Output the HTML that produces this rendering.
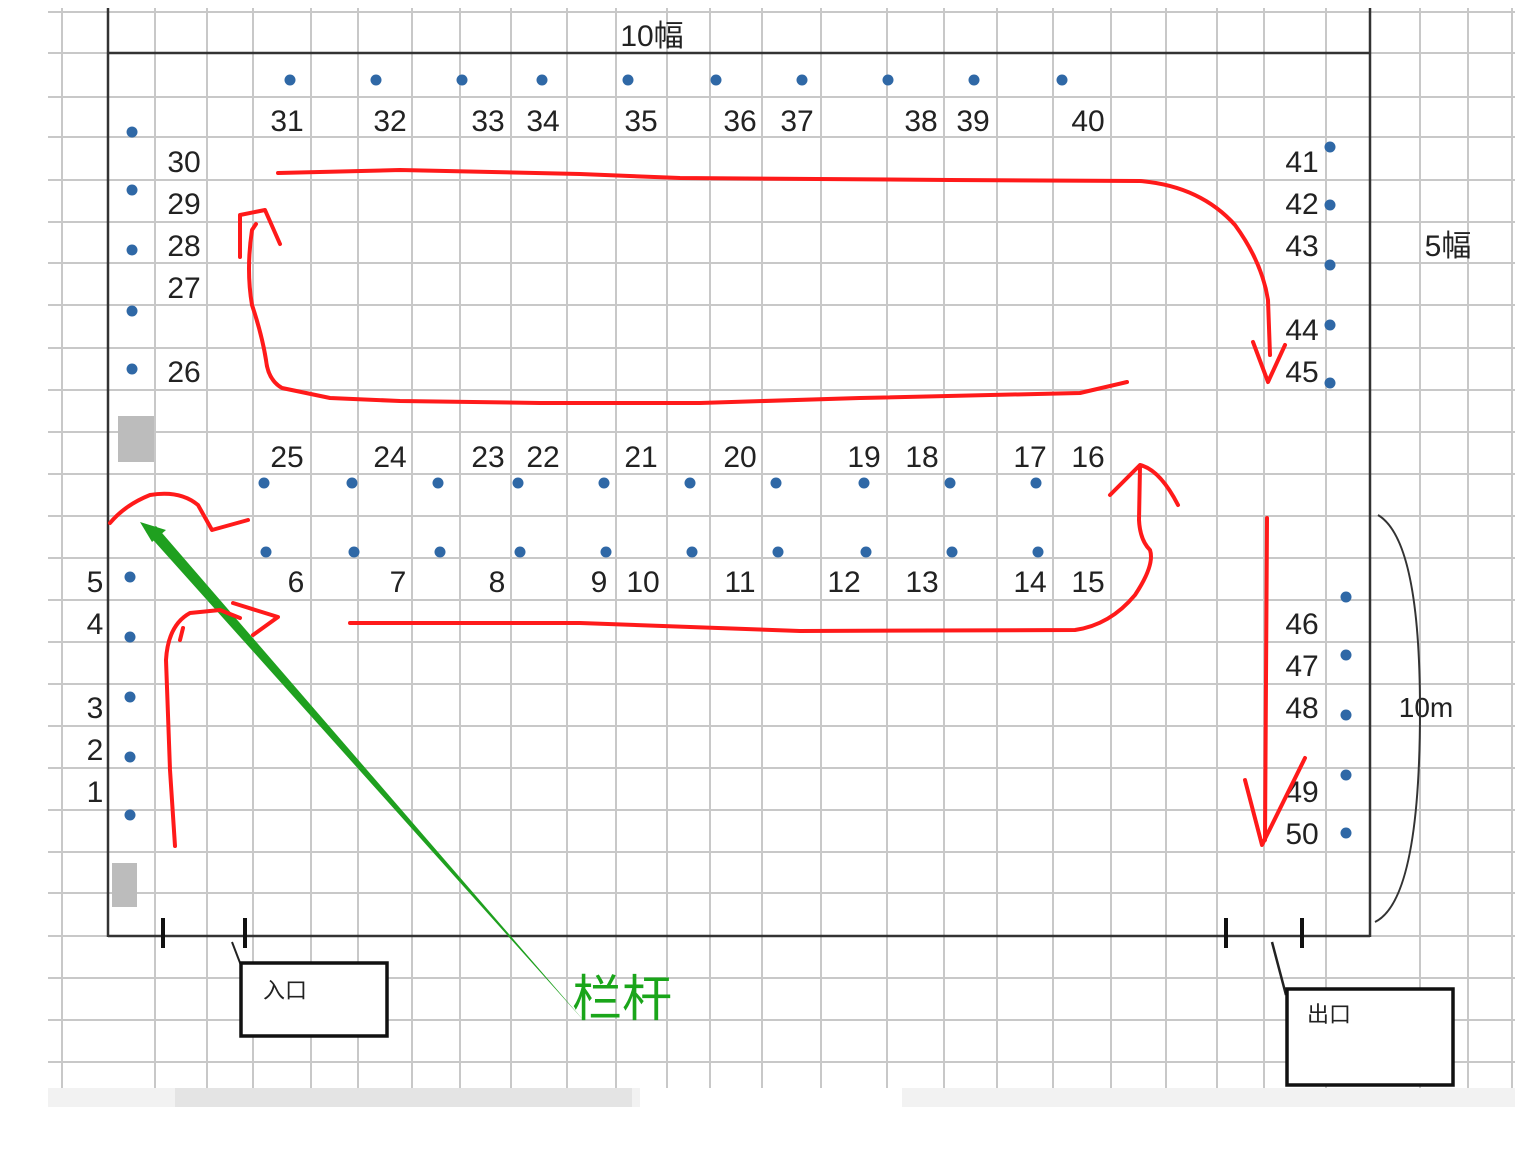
<!DOCTYPE html>
<html><head><meta charset="utf-8"><style>
html,body{margin:0;padding:0;background:#fff;}
svg{display:block;}
text{font-family:"Liberation Sans","Noto Sans CJK SC",sans-serif;}
</style></head><body>
<svg width="1515" height="1153" viewBox="0 0 1515 1153" xmlns="http://www.w3.org/2000/svg">
<rect width="1515" height="1153" fill="#fff"/>
<g stroke="#c8c8c8" stroke-width="2">
<line x1="62" y1="8" x2="62" y2="1088"/><line x1="155" y1="8" x2="155" y2="1088"/><line x1="207" y1="8" x2="207" y2="1088"/><line x1="253" y1="8" x2="253" y2="1088"/><line x1="311" y1="8" x2="311" y2="1088"/><line x1="358" y1="8" x2="358" y2="1088"/><line x1="412" y1="8" x2="412" y2="1088"/><line x1="460" y1="8" x2="460" y2="1088"/><line x1="511" y1="8" x2="511" y2="1088"/><line x1="567" y1="8" x2="567" y2="1088"/><line x1="616" y1="8" x2="616" y2="1088"/><line x1="667" y1="8" x2="667" y2="1088"/><line x1="710" y1="8" x2="710" y2="1088"/><line x1="762" y1="8" x2="762" y2="1088"/><line x1="821" y1="8" x2="821" y2="1088"/><line x1="887" y1="8" x2="887" y2="1088"/><line x1="944" y1="8" x2="944" y2="1088"/><line x1="997" y1="8" x2="997" y2="1088"/><line x1="1053" y1="8" x2="1053" y2="1088"/><line x1="1111" y1="8" x2="1111" y2="1088"/><line x1="1166" y1="8" x2="1166" y2="1088"/><line x1="1217" y1="8" x2="1217" y2="1088"/><line x1="1264" y1="8" x2="1264" y2="1088"/><line x1="1326" y1="8" x2="1326" y2="1088"/><line x1="1420" y1="8" x2="1420" y2="1088"/><line x1="1468" y1="8" x2="1468" y2="1088"/><line x1="1512" y1="8" x2="1512" y2="1088"/>
<line x1="48" y1="12" x2="1515" y2="12"/><line x1="48" y1="97" x2="1515" y2="97"/><line x1="48" y1="137" x2="1515" y2="137"/><line x1="48" y1="180" x2="1515" y2="180"/><line x1="48" y1="222" x2="1515" y2="222"/><line x1="48" y1="263" x2="1515" y2="263"/><line x1="48" y1="305" x2="1515" y2="305"/><line x1="48" y1="348" x2="1515" y2="348"/><line x1="48" y1="390" x2="1515" y2="390"/><line x1="48" y1="432" x2="1515" y2="432"/><line x1="48" y1="474" x2="1515" y2="474"/><line x1="48" y1="516" x2="1515" y2="516"/><line x1="48" y1="558" x2="1515" y2="558"/><line x1="48" y1="600" x2="1515" y2="600"/><line x1="48" y1="642" x2="1515" y2="642"/><line x1="48" y1="684" x2="1515" y2="684"/><line x1="48" y1="726" x2="1515" y2="726"/><line x1="48" y1="768" x2="1515" y2="768"/><line x1="48" y1="810" x2="1515" y2="810"/><line x1="48" y1="852" x2="1515" y2="852"/><line x1="48" y1="893" x2="1515" y2="893"/><line x1="48" y1="978" x2="1515" y2="978"/><line x1="48" y1="1020" x2="1515" y2="1020"/><line x1="48" y1="1062" x2="1515" y2="1062"/>
</g>
<line x1="48" y1="53" x2="108" y2="53" stroke="#c8c8c8" stroke-width="2"/><line x1="1370" y1="53" x2="1515" y2="53" stroke="#c8c8c8" stroke-width="2"/>
<line x1="48" y1="936" x2="108" y2="936" stroke="#c8c8c8" stroke-width="2"/><line x1="1370" y1="936" x2="1515" y2="936" stroke="#c8c8c8" stroke-width="2"/>
<!-- tab bar -->
<rect x="48" y="1088" width="1467" height="19" fill="#f2f2f2"/>
<rect x="175" y="1088" width="457" height="19" fill="#e4e4e4"/>
<rect x="640" y="1088" width="262" height="19" fill="#fff"/>
<!-- border -->
<g stroke="#333" stroke-width="2.5" fill="none">
<line x1="108" y1="8" x2="108" y2="937"/><line x1="1370" y1="8" x2="1370" y2="937"/>
<line x1="108" y1="53" x2="1370" y2="53"/><line x1="108" y1="936" x2="1370" y2="936"/>
</g>
<g stroke="#111" stroke-width="4"><line x1="163" y1="918" x2="163" y2="948"/><line x1="245" y1="918" x2="245" y2="948"/><line x1="1226" y1="918" x2="1226" y2="948"/><line x1="1302" y1="918" x2="1302" y2="948"/></g>
<rect x="118" y="416" width="36" height="46" fill="#bcbcbc"/>
<rect x="112" y="863" width="25" height="44" fill="#bcbcbc"/>
<!-- dots -->
<g fill="#2f68a6">
<circle cx="290" cy="80" r="5.5"/><circle cx="376" cy="80" r="5.5"/><circle cx="462" cy="80" r="5.5"/><circle cx="542" cy="80" r="5.5"/><circle cx="628" cy="80" r="5.5"/><circle cx="716" cy="80" r="5.5"/><circle cx="802" cy="80" r="5.5"/><circle cx="888" cy="80" r="5.5"/><circle cx="974" cy="80" r="5.5"/><circle cx="1062" cy="80" r="5.5"/>
<circle cx="132" cy="132" r="5.5"/><circle cx="132" cy="190" r="5.5"/><circle cx="132" cy="250" r="5.5"/><circle cx="132" cy="311" r="5.5"/><circle cx="132" cy="369" r="5.5"/>
<circle cx="264" cy="483" r="5.5"/><circle cx="352" cy="483" r="5.5"/><circle cx="438" cy="483" r="5.5"/><circle cx="518" cy="483" r="5.5"/><circle cx="604" cy="483" r="5.5"/><circle cx="690" cy="483" r="5.5"/><circle cx="776" cy="483" r="5.5"/><circle cx="864" cy="483" r="5.5"/><circle cx="950" cy="483" r="5.5"/><circle cx="1036" cy="483" r="5.5"/>
<circle cx="266" cy="552" r="5.5"/><circle cx="354" cy="552" r="5.5"/><circle cx="440" cy="552" r="5.5"/><circle cx="520" cy="552" r="5.5"/><circle cx="606" cy="552" r="5.5"/><circle cx="692" cy="552" r="5.5"/><circle cx="778" cy="552" r="5.5"/><circle cx="866" cy="552" r="5.5"/><circle cx="952" cy="552" r="5.5"/><circle cx="1038" cy="552" r="5.5"/>
<circle cx="130" cy="577" r="5.5"/><circle cx="130" cy="637" r="5.5"/><circle cx="130" cy="697" r="5.5"/><circle cx="130" cy="757" r="5.5"/><circle cx="130" cy="815" r="5.5"/>
<circle cx="1330" cy="147" r="5.5"/><circle cx="1330" cy="205" r="5.5"/><circle cx="1330" cy="265" r="5.5"/><circle cx="1330" cy="325" r="5.5"/><circle cx="1330" cy="383" r="5.5"/>
<circle cx="1346" cy="597" r="5.5"/><circle cx="1346" cy="655" r="5.5"/><circle cx="1346" cy="715" r="5.5"/><circle cx="1346" cy="775" r="5.5"/><circle cx="1346" cy="833" r="5.5"/>
</g>
<!-- labels -->
<g font-size="30" fill="#222" text-anchor="middle">
<text x="287" y="131">31</text><text x="390" y="131">32</text><text x="488" y="131">33</text><text x="543" y="131">34</text><text x="641" y="131">35</text><text x="740" y="131">36</text><text x="797" y="131">37</text><text x="921" y="131">38</text><text x="973" y="131">39</text><text x="1088" y="131">40</text>
<text x="184" y="172">30</text><text x="184" y="214">29</text><text x="184" y="256">28</text><text x="184" y="298">27</text><text x="184" y="382">26</text>
<text x="287" y="467">25</text><text x="390" y="467">24</text><text x="488" y="467">23</text><text x="543" y="467">22</text><text x="641" y="467">21</text><text x="740" y="467">20</text><text x="864" y="467">19</text><text x="922" y="467">18</text><text x="1030" y="467">17</text><text x="1088" y="467">16</text>
<text x="296" y="592">6</text><text x="398" y="592">7</text><text x="497" y="592">8</text><text x="599" y="592">9</text><text x="643" y="592">10</text><text x="740" y="592">11</text><text x="844" y="592">12</text><text x="922" y="592">13</text><text x="1030" y="592">14</text><text x="1088" y="592">15</text>
<text x="95" y="592">5</text><text x="95" y="634">4</text><text x="95" y="718">3</text><text x="95" y="760">2</text><text x="95" y="802">1</text>
<text x="1302" y="172">41</text><text x="1302" y="214">42</text><text x="1302" y="256">43</text><text x="1302" y="340">44</text><text x="1302" y="382">45</text>
<text x="1302" y="634">46</text><text x="1302" y="676">47</text><text x="1302" y="718">48</text><text x="1302" y="802">49</text><text x="1302" y="844">50</text>
<text x="652" y="46">10幅</text><text x="1448" y="256">5幅</text><text x="1426" y="717" font-size="28">10m</text>
</g>
<!-- brace -->
<path d="M1378 515 Q1420 540 1420 710 Q1420 900 1375 922" fill="none" stroke="#333" stroke-width="2"/>
<!-- entry/exit boxes -->
<line x1="232" y1="942" x2="242" y2="968" stroke="#222" stroke-width="2"/>
<rect x="241" y="963" width="146" height="73" fill="#fff" stroke="#111" stroke-width="3.5"/>
<text x="263" y="998" font-size="22" fill="#222">入口</text>
<line x1="1272" y1="942" x2="1286" y2="995" stroke="#222" stroke-width="2.5"/>
<rect x="1287" y="989" width="166" height="96" fill="#fff" stroke="#111" stroke-width="3.5"/>
<text x="1307" y="1022" font-size="22" fill="#222">出口</text>
<!-- green pointer -->
<polygon points="146,532 156,526 585,1022" fill="#1fa01f"/>
<polygon points="140,522 166,530 152,542" fill="#1fa01f"/>
<text x="572" y="1016" font-size="50" fill="#1aa51a">栏杆</text>
<!-- red paths -->
<g fill="none" stroke="#ff1a1a" stroke-width="4" stroke-linecap="round" stroke-linejoin="round">
<path d="M278 173 L400 170 L580 174 L680 178 L950 180 L1140 181 Q1200 186 1235 225 Q1262 262 1268 300 L1270 355"/>
<path d="M1253 342 L1268 382 L1285 345"/>
<path d="M1127 382 L1080 393 L860 398 L700 403 L540 403 L400 401 L330 398 L282 388 Q268 380 266 360 Q262 335 252 305 Q246 270 252 230 L256 224"/>
<path d="M240 257 L240 215 L265 210 L280 244"/>
<path d="M350 623 L580 623 L800 631 L1075 630 Q1110 625 1135 595 Q1155 565 1150 550 Q1140 540 1139 520 L1140 467"/>
<path d="M1110 495 L1140 465 Q1160 470 1178 505"/>
<path d="M175 846 L170 770 L166 660 Q168 625 190 613 L220 610 L240 618"/>
<path d="M180 640 L183 628"/>
<path d="M233 603 L278 617 L253 635"/>
<path d="M110 523 Q125 505 150 495 Q180 490 198 505 L212 530 L248 520"/>
<path d="M1267 518 L1265 840"/>
<path d="M1245 780 L1262 845 L1305 758"/>
</g>
</svg>
</body></html>
